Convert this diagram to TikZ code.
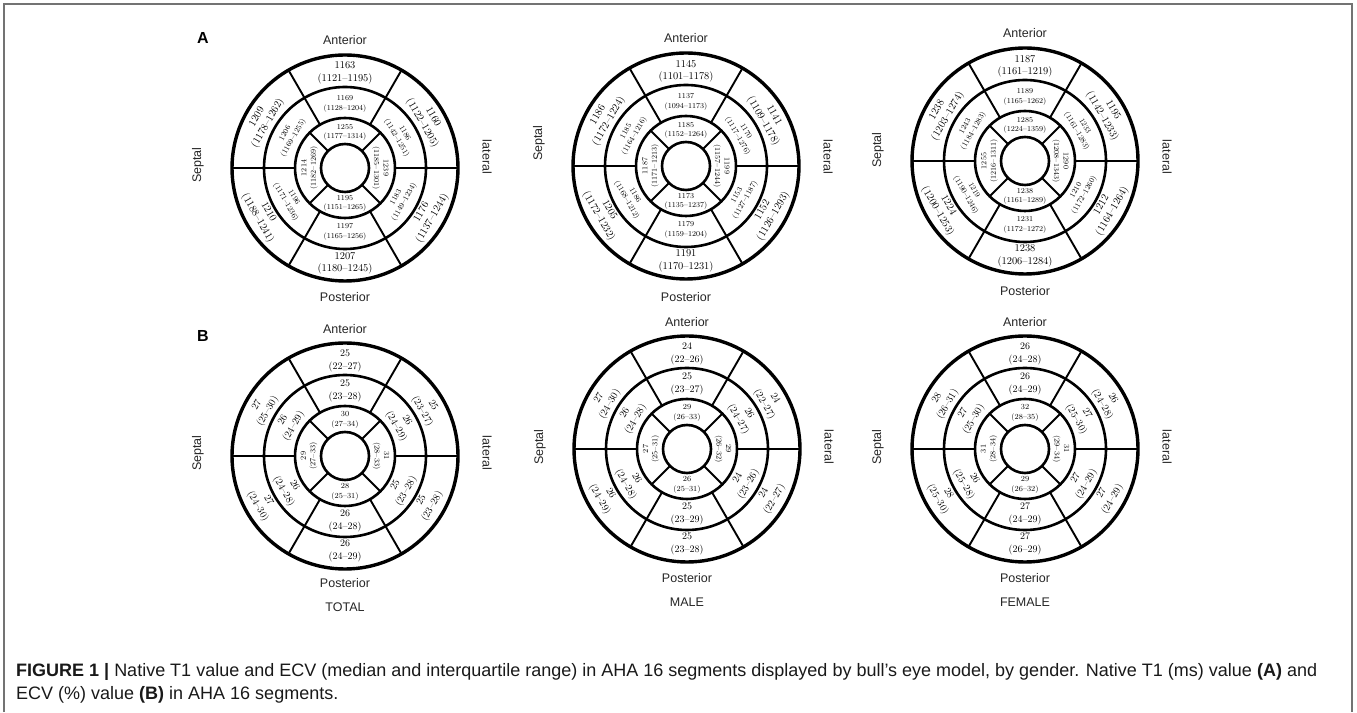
\documentclass[tikz,border=0pt]{standalone}
\usepackage{fontspec}
\newfontfamily\sansf{Liberation Sans}
\usetikzlibrary{calc}
\tikzset{
 ring/.style={line width=2.6pt},
 rim/.style={line width=3.4pt},
 spoke/.style={line width=1.9pt},
 oA/.style={font=\fontsize{10.4}{12.4}\selectfont, align=center, inner sep=0pt},
 sA/.style={font=\fontsize{7.6}{9.4}\selectfont, align=center, inner sep=0pt},
 oB/.style={font=\fontsize{10}{12.4}\selectfont, align=center, inner sep=0pt},
 sB/.style={font=\fontsize{7.8}{9.3}\selectfont, align=center, inner sep=0pt},
 dirlab/.style={font=\sansf\fontsize{12.5}{15}\selectfont, text=black!85, inner sep=0pt},
 panel/.style={font=\sansf\bfseries\fontsize{16}{18}\selectfont, inner sep=0pt},
 capline/.style={font=\sansf\fontsize{18}{23}\selectfont, text=black!90, anchor=west, inner sep=0pt},
 framel/.style={draw=black!55, line width=1.2pt},
}
\newcommand\bullseye[3]{%
 \coordinate (#1) at (#2,#3);
 \draw[rim] (#1) circle[radius=113pt];
 \draw[ring] (#1) circle[radius=81pt];
 \draw[ring] (#1) circle[radius=50pt];
 \draw[ring] (#1) circle[radius=24pt];
 \foreach \a in {0,60,...,300} \draw[spoke] ($(#1)+(\a:50pt)$) -- ($(#1)+(\a:113pt)$);
 \foreach \a in {45,135,225,315} \draw[spoke] ($(#1)+(\a:24pt)$) -- ($(#1)+(\a:50pt)$);
}
\newcommand\seglab[6]{%
 \pgfmathsetmacro\segrot{sin(#3)>-0.01 ? #3-90 : #3+90}%
 \node[#5, rotate=\segrot] (#1) at ($(#2)+(#3:#4pt)$) {#6};}
\newcommand\ringlabs[5]{%
 \foreach \ang/\vl/\rg [count=\idx] in {#5} {\seglab{#1#2\idx}{#1}{\ang}{#3}{#4}{\vl\\(\rg)}}}
\newcommand\dirs[9]{% name, cx, cy, antY, postY, sepX, sepY, latX, latY
 \node[dirlab] (#1ant) at (#2,#4) {Anterior};
 \node[dirlab] (#1post) at (#2,#5) {Posterior};
 \node[dirlab, rotate=90] (#1sep) at (#6,#7) {Septal};
 \node[dirlab, rotate=-90] (#1lat) at (#8,#9) {lateral};}
\begin{document}
\begin{tikzpicture}[x=1pt,y=1pt]
\useasboundingbox (0,0) rectangle (1357,712);
\draw[framel] (4,0) -- (4,708) -- (1352,708) -- (1352,0);

% ---------- A : native T1 ----------
\node[panel] (pA) at (203,674) {A};
\bullseye{A1}{345}{544}
\bullseye{A2}{686}{546}
\bullseye{A3}{1025}{551}

\ringlabs{A1}{o}{95}{oA}{90/1163/1121--1195, 30/1160/1122--1205, -30/1176/1137--1244, 270/1207/1180--1245, 210/1210/1188--1241, 150/1209/1178--1262}
\ringlabs{A1}{m}{64}{sA}{90/1169/1128--1204, 30/1186/1142--1251, -30/1183/1149--1234, 270/1197/1165--1256, 210/1196/1171--1236, 150/1206/1169--1255}
\ringlabs{A1}{i}{35.5}{sA}{90/1255/1177--1314, 0/1239/1185--1301, 270/1195/1151--1265, 180/1214/1182--1269}

\ringlabs{A2}{o}{95}{oA}{90/1145/1101--1178, 30/1141/1109--1178, -30/1152/1126--1293, 270/1191/1170--1231, 210/1205/1172--1232, 150/1186/1172--1224}
\ringlabs{A2}{m}{64}{sA}{90/1137/1094--1173, 30/1170/1117--1276, -30/1153/1127--1187, 270/1179/1159--1204, 210/1186/1168--1212, 150/1185/1164--1216}
\ringlabs{A2}{i}{35.5}{sA}{90/1185/1152--1264, 0/1199/1157--1244, 270/1173/1135--1237, 180/1187/1171--1213}

\ringlabs{A3}{o}{95}{oA}{90/1187/1161--1219, 30/1195/1142--1233, -30/1212/1164--1264, 270/1238/1206--1284, 210/1224/1200--1253, 150/1238/1203--1274}
\ringlabs{A3}{m}{64}{sA}{90/1189/1165--1262, 30/1233/1161--1283, -30/1210/1172--1260, 270/1231/1172--1272, 210/1219/1190--1246, 150/1243/1184--1283}
\ringlabs{A3}{i}{35.5}{sA}{90/1285/1224--1359, 0/1290/1208--1343, 270/1238/1161--1289, 180/1255/1216--1311}

\dirs{A1}{345}{544}{672}{415}{198}{547}{487}{555}
\dirs{A2}{686}{546}{674}{415}{539}{569}{828}{555}
\dirs{A3}{1025}{551}{679}{421}{878}{562}{1167}{555}

% ---------- B : ECV ----------
\node[panel] (pB) at (203,376) {B};
\bullseye{B1}{345}{256}
\bullseye{B2}{687}{263}
\bullseye{B3}{1025}{263}

\ringlabs{B1}{o}{95}{oB}{90/25/22--27, 30/25/23--27, -30/25/23--28, 270/26/24--29, 210/27/24--30, 150/27/25--30}
\ringlabs{B1}{m}{65}{oB}{90/25/23--28, 30/26/24--29, -30/25/23--28, 270/26/24--28, 210/26/24--28, 150/26/24--29}
\ringlabs{B1}{i}{36}{sB}{90/30/27--34, 0/31/28--33, 270/28/25--31, 180/29/27--33}

\ringlabs{B2}{o}{95}{oB}{90/24/22--26, 30/24/22--27, -30/24/22--27, 270/25/23--28, 210/26/24--29, 150/27/24--30}
\ringlabs{B2}{m}{65}{oB}{90/25/23--27, 30/26/24--27, -30/24/23--26, 270/25/23--29, 210/26/24--28, 150/26/24--28}
\ringlabs{B2}{i}{36}{sB}{90/29/26--33, 0/29/26--32, 270/26/25--31, 180/27/25--31}

\ringlabs{B3}{o}{95}{oB}{90/26/24--28, 30/26/24--28, -30/27/24--29, 270/27/26--29, 210/28/25--30, 150/28/26--31}
\ringlabs{B3}{m}{65}{oB}{90/26/24--29, 30/27/25--30, -30/27/24--29, 270/27/24--29, 210/26/25--28, 150/27/25--30}
\ringlabs{B3}{i}{36}{sB}{90/32/28--35, 0/31/29--34, 270/29/26--32, 180/31/28--34}

\dirs{B1}{345}{256}{383}{129}{198}{259}{487}{259}
\dirs{B2}{687}{263}{390}{134}{540}{265}{829}{265}
\dirs{B3}{1025}{263}{390}{134}{878}{265}{1167}{265}

\node[dirlab] (tot) at (345,105) {TOTAL};
\node[dirlab] (male) at (687,110) {MALE};
\node[dirlab] (fem) at (1025,110) {FEMALE};

% ---------- caption ----------
\node[capline] (cap1) at (16,40) {\textbf{FIGURE 1 |} Native T1 value and ECV (median and interquartile range) in AHA 16 segments displayed by bull’s eye model, by gender. Native T1 (ms) value \textbf{(A)} and};
\node[capline] (cap2) at (16,17) {ECV (\%) value \textbf{(B)} in AHA 16 segments.};
\end{tikzpicture}
\end{document}
